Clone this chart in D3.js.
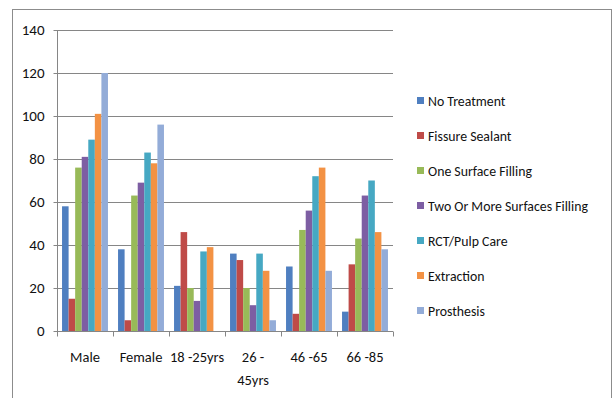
<!DOCTYPE html>
<html>
<head>
<meta charset="utf-8">
<script src="https://cdn.jsdelivr.net/npm/d3@7"></script>
<style>
  body { margin: 0; background: #fff; }
  svg text { font-family: Carlito, Calibri, Lato, sans-serif; fill: #111; }
</style>
</head>
<body>
<svg id="chart"></svg>
<script>
// Chart data
const categories = ["Male", "Female", "18 -25yrs", "26 - 45yrs", "46 -65", "66 -85"];
const seriesNames = [
  "No Treatment",
  "Fissure Sealant",
  "One Surface Filling",
  "Two Or More Surfaces Filling",
  "RCT/Pulp Care",
  "Extraction",
  "Prosthesis",
];
const noTreatment = [58, 38, 21, 36, 30, 9];
const fissureSealant = [15, 5, 46, 33, 8, 31];
const oneSurface = [76, 63, 20, 20, 47, 43];
const twoOrMore = [81, 69, 14, 12, 56, 63];
const rctPulp = [89, 83, 37, 36, 72, 70];
const extraction = [101, 78, 39, 28, 76, 46];
const prosthesis = [120, 96, 0, 5, 28, 38];
const yTicks = [0, 20, 40, 60, 80, 100, 120, 140];

const colors = ["#4f7fc0", "#bf4b48", "#98ba58", "#7d5ea3", "#46a8c3", "#f39244", "#93acd8"];
const allSeries = [noTreatment, fissureSealant, oneSurface, twoOrMore, rctPulp, extraction, prosthesis];

const W = 615, H = 398;
const plot = { left: 57, right: 393, top: 30, bottom: 331 };

const svg = d3.select("#chart").attr("width", W).attr("height", H);

// outer frame
svg.append("rect")
  .attr("x", 12.5).attr("y", 9.5)
  .attr("width", 599).attr("height", 400)
  .attr("fill", "none").attr("stroke", "#8c8c8c").attr("stroke-width", 1);

const x0 = d3.scaleBand().domain(categories).range([plot.left, plot.right]).paddingInner(0.18).paddingOuter(0.09);
const x1 = d3.scaleBand().domain(seriesNames).range([0, x0.bandwidth()]);
const y = d3.scaleLinear().domain([0, 140]).range([plot.bottom, plot.top]);

// gridlines
svg.append("g")
  .selectAll("line")
  .data(yTicks.filter((d) => d > 0))
  .join("line")
  .attr("x1", plot.left).attr("x2", plot.right)
  .attr("y1", (d) => Math.round(y(d)) + 0.5).attr("y2", (d) => Math.round(y(d)) + 0.5)
  .attr("stroke", "#868686");

// bars
const groups = svg.append("g")
  .selectAll("g")
  .data(categories)
  .join("g")
  .attr("transform", (c) => `translate(${x0(c)},0)`);

groups.selectAll("rect")
  .data((c, i) => seriesNames.map((s, j) => ({ s, j, v: allSeries[j][i] })))
  .join("rect")
  .attr("x", (d) => x1(d.s))
  .attr("width", x1.bandwidth())
  .attr("y", (d) => y(d.v))
  .attr("height", (d) => y(0) - y(d.v))
  .attr("fill", (d) => colors[d.j]);

// y axis
const yAxis = svg.append("g")
  .attr("transform", `translate(${plot.left + 0.5},0)`)
  .call(d3.axisLeft(y).tickValues(yTicks).tickSize(4).tickPadding(9));
yAxis.select(".domain").attr("stroke", "#868686").attr("d", `M0,${plot.top}V${plot.bottom}`);
yAxis.selectAll(".tick line").attr("stroke", "#868686");
yAxis.selectAll(".tick text")
  .attr("font-size", 15)
  .style("font-family", "Carlito, Calibri, Lato, sans-serif")
  .style("fill", "#111");

// x axis (tick marks at category boundaries)
const xAxisG = svg.append("g").attr("transform", `translate(0,${plot.bottom + 0.5})`);
xAxisG.append("line")
  .attr("x1", plot.left).attr("x2", plot.right)
  .attr("stroke", "#868686");
const step = (plot.right - plot.left) / categories.length;
xAxisG.selectAll(".sep")
  .data(d3.range(categories.length + 1))
  .join("line")
  .attr("class", "sep")
  .attr("x1", (i) => Math.round(plot.left + i * step) + 0.5)
  .attr("x2", (i) => Math.round(plot.left + i * step) + 0.5)
  .attr("y1", 0).attr("y2", 5)
  .attr("stroke", "#868686");

const xLabels = xAxisG.selectAll(".xl")
  .data(categories)
  .join("text")
  .attr("class", "xl")
  .attr("text-anchor", "middle")
  .attr("font-size", 14.5)
  .attr("transform", (c) => `translate(${x0(c) + x0.bandwidth() / 2},0)`);
xLabels.each(function (c) {
  const parts = c === "26 - 45yrs" ? ["26 -", "45yrs"] : [c];
  d3.select(this).selectAll("tspan")
    .data(parts)
    .join("tspan")
    .attr("x", 0)
    .attr("y", (d, i) => 30 + i * 23)
    .text((d) => d);
});

// legend
const legend = svg.append("g")
  .selectAll("g")
  .data(seriesNames)
  .join("g")
  .attr("transform", (d, i) => `translate(417,${101 + i * 35})`);
legend.append("rect")
  .attr("x", 0).attr("y", -4)
  .attr("width", 7).attr("height", 7)
  .attr("fill", (d, i) => colors[i]);
legend.append("text")
  .attr("x", 11).attr("y", 0)
  .attr("dy", "0.35em")
  .attr("font-size", 13.8)
  .text((d) => d);
</script>
</body>
</html>
